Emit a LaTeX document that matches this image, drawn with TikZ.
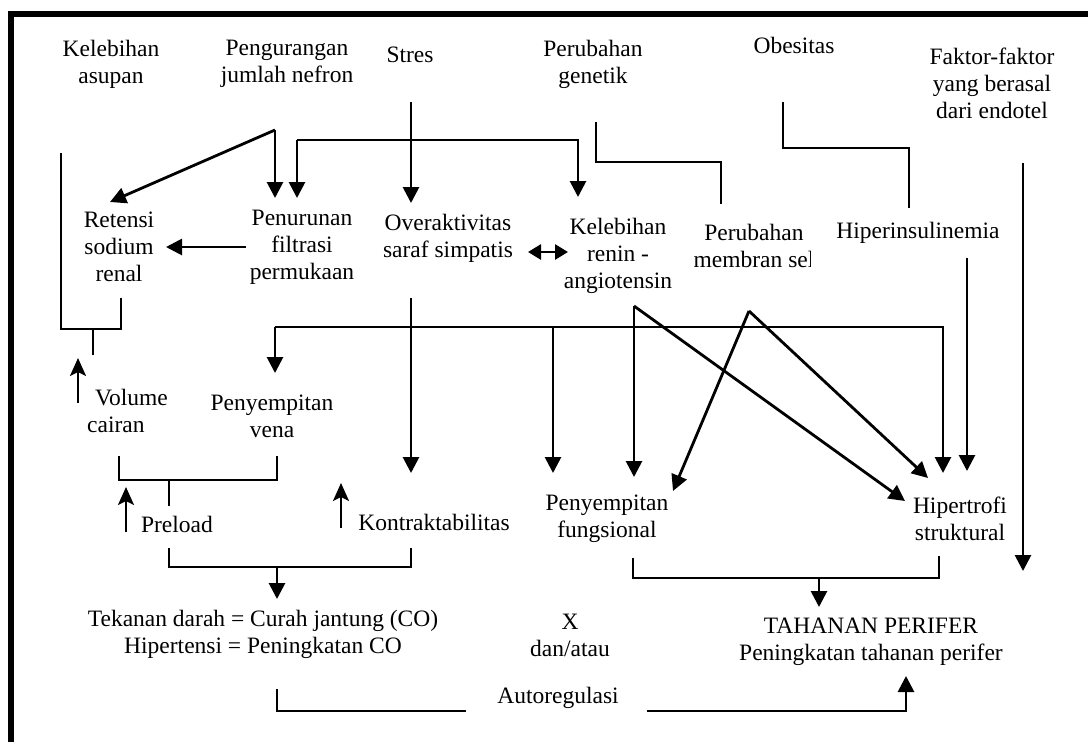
\documentclass[tikz,border=0pt]{standalone}
\usepackage{fontspec}
\setmainfont{Liberation Serif}
\usetikzlibrary{arrows.meta,calc}
\begin{document}
\begin{tikzpicture}[x=1pt,y=-1pt,
  txt/.style={font=\fontsize{23.5}{27}\selectfont, align=center, inner sep=0pt},
  ln/.style={line width=2.8pt},
  arr/.style={ln,-{Triangle[width=16pt,length=16pt]}},
  uparr/.style={line width=2.4pt,-{Stealth[width=16pt,length=18pt,inset=4pt]}},
  dbl/.style={ln,{Triangle[width=15pt,length=13pt]}-{Triangle[width=15pt,length=13pt]}},
  frame/.style={line width=6pt}
]
\useasboundingbox (0,0) rectangle (1088,742);
% frame
\coordinate (fbl) at (11,760);
\coordinate (ftl) at (11,13.5);
\coordinate (ftr) at (1100,13.5);
\draw[frame] (fbl) -- (ftl) -- (ftr);

% text nodes
\node[txt] (kel)  at (111,64)  {Kelebihan\\asupan};
\node[txt] (peng) at (287,64)  {Pengurangan\\jumlah nefron};
\node[txt] (stres) at (410,55) {Stres};
\node[txt] (pgen) at (593,64)  {Perubahan\\genetik};
\node[txt] (obes) at (794,45)  {Obesitas};
\node[txt] (fak)  at (992,83)  {Faktor-faktor\\yang berasal\\dari endotel};
\node[txt] (ret)  at (119,247) {Retensi\\sodium\\renal};
\node[txt] (pen)  at (302,247) {Penurunan\\filtrasi\\permukaan};
\node[txt] (ovr)  at (448,238) {Overaktivitas\\saraf simpatis};
\node[txt] (ren)  at (618,256) {Kelebihan\\renin -\\angiotensin};
\begin{scope}
\clip (680,200) rectangle (810,280);
\node[txt] (pmem) at (754,246) {Perubahan\\membran sel};
\end{scope}
\node[txt] (hins) at (918,233) {Hiperinsulinemia};
\node[txt,align=left,anchor=west] (vol) at (87,410.5) {\hspace{8pt}Volume\\cairan};
\node[txt] (pven) at (272,416) {Penyempitan\\vena};
\node[txt] (prel) at (177,524) {Preload};
\node[txt] (kon)  at (434,522) {Kontraktabilitas};
\node[txt] (tek)  at (263,634) {Tekanan darah = Curah jantung (CO)\\Hipertensi = Peningkatan CO};
\node[txt] (xd)   at (570,635) {X\\dan/atau};
\node[txt] (auto) at (558,698) {Autoregulasi};
\node[txt] (pfun) at (607,518.5) {Penyempitan\\fungsional};
\node[txt] (hip)  at (960,518.5) {Hipertrofi\\struktural};
\node[txt] (tah)  at (871,641.5) {TAHANAN PERIFER\\Peningkatan tahanan perifer};

% coordinates
\coordinate (k1) at (61,153);
\coordinate (k2) at (61,329);
\coordinate (k3) at (121,329);
\coordinate (k4) at (121,298);
\coordinate (ks1) at (93,329);
\coordinate (ks2) at (93,355);
\coordinate (vu1) at (78,403);
\coordinate (vu2) at (78,358);
\coordinate (p0) at (275,130);
\coordinate (p1) at (275,198);
\coordinate (p2) at (110,202);
\coordinate (r1) at (297,140);
\coordinate (r2) at (578,140);
\coordinate (r3) at (297,198);
\coordinate (r4) at (578,197);
\coordinate (s1) at (411,102);
\coordinate (s2) at (411,203);
\coordinate (g1) at (596,122);
\coordinate (g2) at (596,162);
\coordinate (g3) at (721,162);
\coordinate (g4) at (721,204);
\coordinate (o1) at (783,102);
\coordinate (o2) at (783,148);
\coordinate (o3) at (909,148);
\coordinate (o4) at (909,208);
\coordinate (f1) at (1023,163);
\coordinate (f2) at (1023,571);
\coordinate (pr1) at (246,247);
\coordinate (pr2) at (166,247);
\coordinate (d1) at (528,252);
\coordinate (d2) at (568,252);
\coordinate (h1) at (967,258);
\coordinate (h2) at (967,471);
\coordinate (b0) at (275,327);
\coordinate (b1) at (275,373);
\coordinate (b2) at (943,327);
\coordinate (b3) at (943,473);
\coordinate (b4) at (553,327);
\coordinate (b5) at (553,473);
\coordinate (ov1) at (411,298);
\coordinate (ov2) at (411,473);
\coordinate (a0) at (634,306);
\coordinate (a1) at (634,477);
\coordinate (a2) at (905,501);
\coordinate (m0) at (749,311);
\coordinate (m1) at (673,491);
\coordinate (m2) at (928,478);
\coordinate (v1) at (119,456);
\coordinate (v2) at (119,480);
\coordinate (v3) at (277,480);
\coordinate (v4) at (277,456);
\coordinate (vs1) at (169,480);
\coordinate (vs2) at (169,506);
\coordinate (pu1) at (126,532);
\coordinate (pu2) at (126,487);
\coordinate (ku1) at (341,528);
\coordinate (ku2) at (341,483);
\coordinate (c1) at (169,548);
\coordinate (c2) at (169,567);
\coordinate (c3) at (411,567);
\coordinate (c4) at (411,548);
\coordinate (c5) at (277,567);
\coordinate (c6) at (277,599);
\coordinate (t1) at (633,558);
\coordinate (t2) at (633,578);
\coordinate (t3) at (939,578);
\coordinate (t4) at (939,556);
\coordinate (t5) at (819,578);
\coordinate (t6) at (819,607);
\coordinate (au1) at (277,689);
\coordinate (au2) at (277,711);
\coordinate (au3) at (466,711);
\coordinate (au4) at (647,711);
\coordinate (au5) at (906,711);
\coordinate (au6) at (906,676);

% connectors
\draw[ln] (k1) -- (k2) -- (k3) -- (k4);
\draw[ln] (ks1) -- (ks2);
\draw[uparr] (vu1) -- (vu2);
\draw[arr] (p0) -- (p1);
\draw[arr] (p0) -- (p2);
\draw[arr] (r1) -- (r3);
\draw[arr] (r1) -- (r2) -- (r4);
\draw[arr] (s1) -- (s2);
\draw[ln] (g1) -- (g2) -- (g3) -- (g4);
\draw[ln] (o1) -- (o2) -- (o3) -- (o4);
\draw[arr] (f1) -- (f2);
\draw[arr] (pr1) -- (pr2);
\draw[dbl] (d1) -- (d2);
\draw[arr] (h1) -- (h2);
\draw[arr] (b0) -- (b1);
\draw[arr] (b0) -- (b2) -- (b3);
\draw[arr] (b4) -- (b5);
\draw[arr] (ov1) -- (ov2);
\draw[arr] (a0) -- (a1);
\draw[arr] (a0) -- (a2);
\draw[arr] (m0) -- (m1);
\draw[arr] (m0) -- (m2);
\draw[ln] (v1) -- (v2) -- (v3) -- (v4);
\draw[ln] (vs1) -- (vs2);
\draw[uparr] (pu1) -- (pu2);
\draw[uparr] (ku1) -- (ku2);
\draw[ln] (c1) -- (c2) -- (c3) -- (c4);
\draw[arr] (c5) -- (c6);
\draw[ln] (t1) -- (t2) -- (t3) -- (t4);
\draw[arr] (t5) -- (t6);
\draw[ln] (au1) -- (au2) -- (au3);
\draw[arr] (au4) -- (au5) -- (au6);
\end{tikzpicture}
\end{document}
